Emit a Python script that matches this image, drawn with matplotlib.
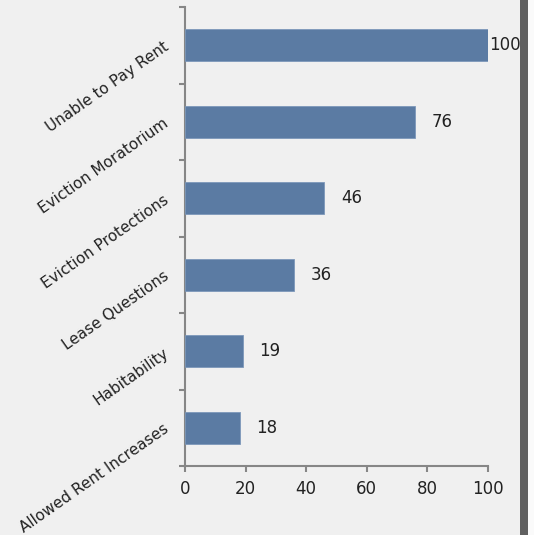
import matplotlib
matplotlib.use("Agg")
import matplotlib.pyplot as plt
from matplotlib.patches import Rectangle
import numpy as np

categories = ["Unable to Pay Rent", "Eviction Moratorium", "Eviction Protections",
              "Lease Questions", "Habitability", "Allowed Rent Increases"]
values = [100, 76, 46, 36, 19, 18]
xticks = [0, 20, 40, 60, 80, 100]

plt.rcParams['font.family'] = ['DejaVu Sans']
BG = '#f0f0f0'
BAR = '#5b7ba3'
SPINE = '#868686'
TXT = '#222222'

fig = plt.figure(figsize=(5.34, 5.35), dpi=100, facecolor=BG)
ax = fig.add_axes([185/534, 1-466/535, (488-185)/534, (466-7)/535])
ax.set_facecolor(BG)

n = len(categories)
ypos = np.arange(n)[::-1]
ax.barh(ypos, values, height=0.42, color=BAR, edgecolor='#7d98ba', linewidth=0.6, zorder=3)

ax.set_xlim(0, 100)
ax.set_ylim(-0.5, n - 0.5)

for y, v in zip(ypos, values):
    off = 1 if v == max(values) else 12
    ax.annotate(str(v), xy=(v, y), xytext=(off, 0), textcoords='offset points',
                ha='left', va='center', fontsize=12, color=TXT, annotation_clip=False)

ax.set_xticks(xticks)
ax.set_xticklabels([str(t) for t in xticks], fontsize=12, color=TXT)
ax.set_yticks(ypos)
ax.set_yticklabels(categories, rotation=35, ha='right', va='center',
                   rotation_mode='anchor', fontsize=11, color=TXT)
ax.set_yticks(np.arange(-0.5, n, 1.0), minor=True)
ax.tick_params(axis='y', which='major', length=0, pad=13)
ax.tick_params(axis='y', which='minor', length=4, width=1.5, color=SPINE)
ax.tick_params(axis='x', which='major', length=4, width=1.5, color=SPINE, pad=6)

for s in ['top', 'right']:
    ax.spines[s].set_visible(False)
for s in ['left', 'bottom']:
    ax.spines[s].set_color(SPINE)
    ax.spines[s].set_linewidth(1.5)

fig.patches.append(Rectangle((520/534, 0), 8/534, 1, transform=fig.transFigure,
                             facecolor='#606060', edgecolor='none', zorder=10))
fig.patches.append(Rectangle((528/534, 0), 6/534, 1, transform=fig.transFigure,
                             facecolor='#fafafa', edgecolor='none', zorder=10))

fig.savefig('out.png', dpi=100, facecolor=BG)
